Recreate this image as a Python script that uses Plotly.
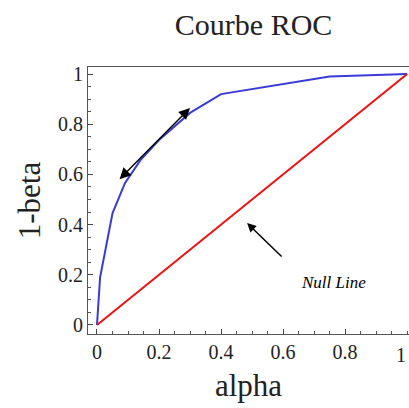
import plotly.graph_objects as go

alpha = [0.0, 0.01, 0.05, 0.09, 0.14, 0.20, 0.30, 0.40, 0.75, 1.0]
one_minus_beta = [0.0, 0.19, 0.445, 0.565, 0.657, 0.737, 0.845, 0.92, 0.99, 1.0]
null_x = [0.0, 1.0]
null_y = [0.0, 1.0]
tick_vals = [0, 0.2, 0.4, 0.6, 0.8, 1]
tick_text = ["0", "0.2", "0.4", "0.6", "0.8", "1"]

serif = "Liberation Serif, Times New Roman, serif"

fig = go.Figure()
fig.add_trace(go.Scatter(x=alpha, y=one_minus_beta, mode="lines",
                         line=dict(color="#3a3ad8", width=2), showlegend=False))
fig.add_trace(go.Scatter(x=null_x, y=null_y, mode="lines",
                         line=dict(color="#ee1111", width=2), showlegend=False))

# double-headed arrow along the curve
fig.add_annotation(x=0.30, y=0.865, ax=0.068, ay=0.575, xref="x", yref="y",
                   axref="x", ayref="y", text="", showarrow=True,
                   arrowhead=2, startarrowhead=2, arrowside="end+start",
                   arrowsize=1.6, startarrowsize=1.6, arrowwidth=1.4, arrowcolor="black")
# Null line arrow
fig.add_annotation(x=0.484, y=0.406, ax=0.60, ay=0.267, xref="x", yref="y",
                   axref="x", ayref="y", text="", showarrow=True,
                   arrowhead=2, arrowsize=1.2, arrowwidth=1.5, arrowcolor="black")
fig.add_annotation(x=0.762, y=0.168, xref="x", yref="y", text="<i>Null Line</i>",
                   showarrow=False, font=dict(family=serif, size=17, color="black"))
# last x tick label at the right edge
fig.add_annotation(x=1.0, y=0, xref="x", yref="paper", text=tick_text[-1],
                   showarrow=False, yanchor="top", xanchor="right", xshift=1, yshift=-8,
                   font=dict(family=serif, size=20, color="#222222"))

axis_common = dict(showline=True, linecolor="#555555", linewidth=1, mirror=True,
                   ticks="inside", ticklen=5, tickcolor="#444444", showgrid=False,
                   zeroline=False,
                   tickfont=dict(family=serif, size=20, color="#222222"),
                   minor=dict(ticks="inside", ticklen=3, dtick=0.05, tick0=0,
                              tickcolor="#555555", showgrid=False))

fig.update_layout(
    width=409, height=408,
    margin=dict(l=88, r=0, t=67, b=74),
    paper_bgcolor="white", plot_bgcolor="white",
    title=dict(text="Courbe ROC", x=0.62, xanchor="center", y=0.94, yanchor="middle",
               font=dict(family=serif, size=30, color="#222222")),
    xaxis=dict(range=[-0.029, 1.006], tickvals=tick_vals[:-1], ticktext=tick_text[:-1],
               title=dict(text="alpha", standoff=12,
               font=dict(family=serif, size=31, color="#222222")), **axis_common),
    yaxis=dict(range=[-0.036, 1.028], tickvals=tick_vals, ticktext=tick_text,
               title=dict(text="1-beta", standoff=8,
               font=dict(family=serif, size=31, color="#222222")), **axis_common),
)

fig.write_html("out.html")
